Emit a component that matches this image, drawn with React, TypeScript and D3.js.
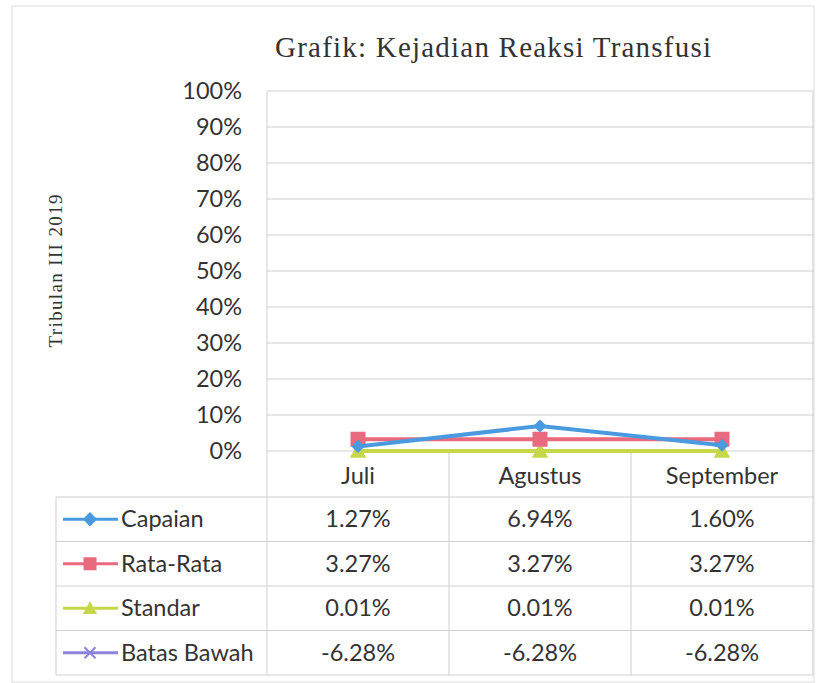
import React from "react";
import * as d3 from "d3";

const categories = ["Juli", "Agustus", "September"];
const seriesNames = ["Capaian", "Rata-Rata", "Standar", "Batas Bawah"];
const capaian = [1.27, 6.94, 1.6];
const rataRata = [3.27, 3.27, 3.27];
const standar = [0.01, 0.01, 0.01];
const batasBawah = [-6.28, -6.28, -6.28];
const yTicks = [0, 10, 20, 30, 40, 50, 60, 70, 80, 90, 100];

const W = 828;
const H = 683;
const colors = ["#4a9ae0", "#e9697e", "#c6d84a", "#8d84dc"];
const symbols = ["diamond", "square", "triangle", "x"];

export default function App() {
  const left = 267;
  const right = 813;
  const top = 91;
  const bottom = 451;
  const x = d3.scaleBand<string>().domain(categories).range([left, right]);
  const y = d3.scaleLinear().domain([0, 100]).range([bottom, top]);
  const allSeries = [capaian, rataRata, standar, batasBawah];
  const line = d3
    .line<number>()
    .x((_, i) => (x(categories[i]) as number) + x.bandwidth() / 2)
    .y((d) => y(d));

  const tableLeft = 56;
  const headerBottom = 497;
  const rowH = 44.5;
  const tableBottom = headerBottom + rowH * 4;
  const font = "Lato, 'Open Sans', sans-serif";
  const fs = 23.5;
  const grid = "#cfcfcf";

  const marker = (type: string, cx: number, cy: number, color: string, s: number) => {
    if (type === "diamond") {
      return (
        <path
          d={`M${cx},${cy - s * 0.55}L${cx + s * 0.55},${cy}L${cx},${cy + s * 0.55}L${cx - s * 0.55},${cy}Z`}
          fill={color}
        />
      );
    }
    if (type === "square") {
      return <rect x={cx - s / 2} y={cy - s / 2} width={s} height={s} fill={color} />;
    }
    if (type === "triangle") {
      return (
        <path
          d={`M${cx},${cy - s * 0.55}L${cx + s * 0.55},${cy + s * 0.45}L${cx - s * 0.55},${cy + s * 0.45}Z`}
          fill={color}
        />
      );
    }
    return (
      <path
        d={`M${cx - s / 2},${cy - s / 2}L${cx + s / 2},${cy + s / 2}M${cx + s / 2},${cy - s / 2}L${cx - s / 2},${cy + s / 2}`}
        stroke={color}
        strokeWidth={2}
      />
    );
  };

  return (
    <svg width={W} height={H} style={{ display: "block", position: "absolute", left: 0, top: 0 }}>
      <rect x={0} y={0} width={W} height={H} fill="#fff" />
      <rect x={12} y={6} width={802} height={676} fill="none" stroke="#dcdcdc" strokeWidth={1} />
      <text
        x={493}
        y={57}
        textAnchor="middle"
        fontFamily="'Liberation Serif', 'DejaVu Serif', serif"
        fontSize={29}
        fill="#333"
        textLength={436}
        lengthAdjust="spacing"
      >
        Grafik: Kejadian Reaksi Transfusi
      </text>
      <text
        transform={`translate(62,271) rotate(-90)`}
        textAnchor="middle"
        fontFamily="'Liberation Serif', 'DejaVu Serif', serif"
        fontSize={19}
        fill="#333"
        textLength={153}
        lengthAdjust="spacing"
      >
        Tribulan III 2019
      </text>
      {yTicks.map((t) => (
        <g key={t}>
          <line x1={left} x2={right} y1={y(t)} y2={y(t)} stroke={grid} strokeWidth={1} />
          <text x={242} y={y(t) + 8} textAnchor="end" fontFamily={font} fontSize={fs} fill="#333">
            {t}%
          </text>
        </g>
      ))}
      <line x1={left} x2={left} y1={top} y2={tableBottom} stroke={grid} />
      <line x1={right} x2={right} y1={top} y2={tableBottom} stroke={grid} />
      {categories.slice(1).map((c) => (
        <line key={c} x1={x(c)} x2={x(c)} y1={bottom} y2={tableBottom} stroke={grid} />
      ))}
      {[0, 1, 2, 3, 4].map((r) => (
        <line
          key={r}
          x1={tableLeft}
          x2={right}
          y1={headerBottom + r * rowH}
          y2={headerBottom + r * rowH}
          stroke={grid}
        />
      ))}
      <line x1={tableLeft} x2={tableLeft} y1={headerBottom} y2={tableBottom} stroke={grid} />
      {categories.map((c) => (
        <text
          key={c}
          x={(x(c) as number) + x.bandwidth() / 2}
          y={484}
          textAnchor="middle"
          fontFamily={font}
          fontSize={fs}
          fill="#333"
        >
          {c}
        </text>
      ))}
      {allSeries.map((vals, si) => {
        const cy = headerBottom + si * rowH + rowH / 2;
        return (
          <g key={si}>
            <line x1={63} x2={118} y1={cy} y2={cy} stroke={colors[si]} strokeWidth={3} />
            {marker(symbols[si], 90, cy, colors[si], si === 3 ? 11 : 13)}
            <text x={121} y={cy + 8} fontFamily={font} fontSize={fs} fill="#333">
              {seriesNames[si]}
            </text>
            {vals.map((v, i) => (
              <text
                key={i}
                x={(x(categories[i]) as number) + x.bandwidth() / 2}
                y={cy + 8}
                textAnchor="middle"
                fontFamily={font}
                fontSize={fs}
                fill="#333"
              >
                {v.toFixed(2)}%
              </text>
            ))}
          </g>
        );
      })}
      {[2, 1, 0].map((si) => {
        const vals = allSeries[si];
        return (
          <g key={"s" + si}>
            <path d={line(vals) || ""} fill="none" stroke={colors[si]} strokeWidth={4} />
            {vals.map((v, i) => (
              <g key={i}>
                {marker(
                  symbols[si],
                  (x(categories[i]) as number) + x.bandwidth() / 2,
                  y(v),
                  colors[si],
                  si === 0 ? 12 : 15
                )}
              </g>
            ))}
          </g>
        );
      })}
    </svg>
  );
}
